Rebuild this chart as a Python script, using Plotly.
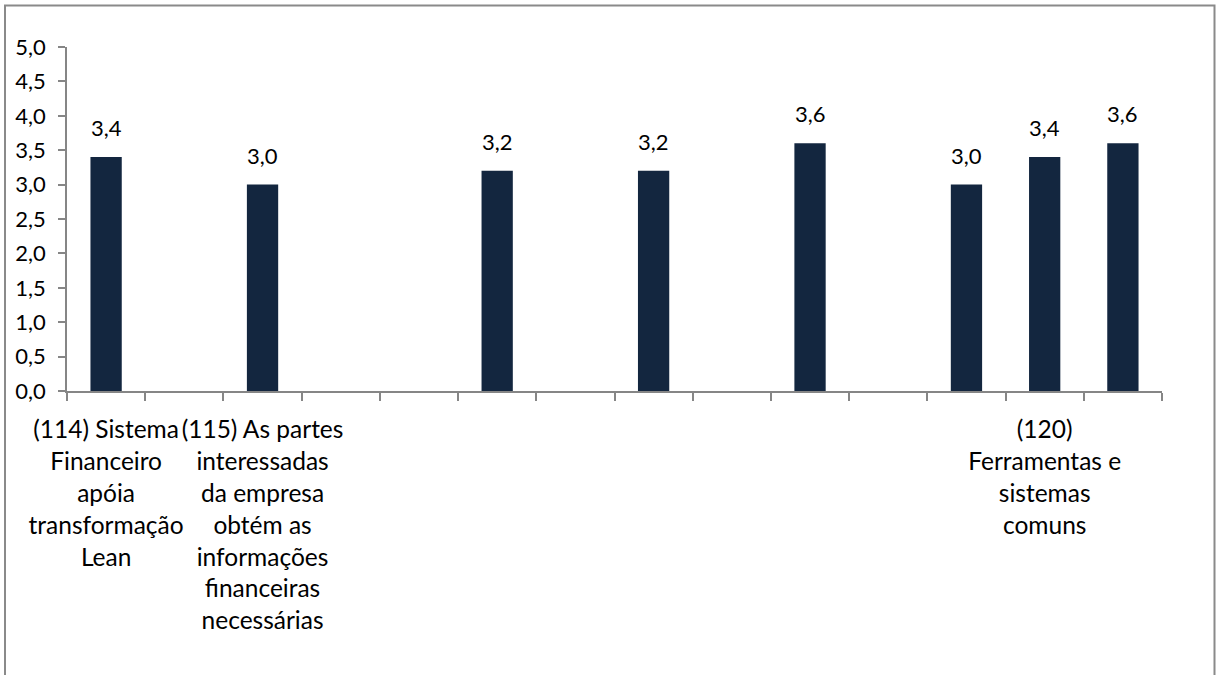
import plotly.graph_objects as go

# ---- data ----
categories = [
    "(114) Sistema<br>Financeiro<br>apóia<br>transformação<br>Lean",
    "",
    "(115) As partes<br>interessadas<br>da empresa<br>obtém as<br>informações<br>financeiras<br>necessárias",
    "", "", "", "", "", "", "", "", "",
    "(120)<br>Ferramentas e<br>sistemas<br>comuns",
    "",
]
values = [3.4, None, 3.0, None, None, 3.2, None, 3.2, None, 3.6, None, 3.0, 3.4, 3.6]
y_ticks = [0, 0.5, 1, 1.5, 2, 2.5, 3, 3.5, 4, 4.5, 5]

# ---- layout constants ----
W, H = 1216, 675
L, R, T, B = 67, 1162, 47, 391
FONT = "Lato, Calibri, sans-serif"
BAR = "#13263f"
AXIS = "#868686"

xpos = list(range(len(categories)))

fig = go.Figure()
fig.add_trace(go.Bar(
    x=xpos, y=values, marker=dict(color=BAR, line=dict(width=0)),
    width=0.4, showlegend=False, hoverinfo="skip",
))

for x, v in zip(xpos, values):
    if v is None:
        continue
    fig.add_annotation(
        x=x, y=v, text=f"{v:.1f}".replace(".", ","), showarrow=False,
        yanchor="bottom", yshift=14, font=dict(family=FONT, size=22, color="#000"),
    )

# outer chart border
px = lambda p: (p - L) / (R - L)
py = lambda p: (B - p) / (B - T)
fig.add_shape(type="rect", xref="paper", yref="paper",
              x0=px(5), x1=px(1214.5), y0=py(700), y1=py(5.5),
              line=dict(color="#8a8a8a", width=2), fillcolor="rgba(0,0,0,0)", layer="below")

fig.update_layout(
    width=W, height=H,
    margin=dict(l=L, r=W - R, t=T, b=H - B, pad=0),
    paper_bgcolor="white", plot_bgcolor="white",
    separators=",.",
    font=dict(family=FONT, size=22, color="#000"),
    bargap=0.6,
)
fig.update_xaxes(
    range=[-0.5, len(categories) - 0.5],
    tickmode="array", tickvals=xpos, ticktext=categories,
    ticks="", ticklen=0, tickangle=0,
    showline=True, linecolor=AXIS, linewidth=1.5,
    showgrid=False, zeroline=False,
    ticklabelstandoff=16,
    tickfont=dict(family=FONT, size=24.5, color="#000"),
    minor=dict(tickmode="array", tickvals=[i - 0.5 for i in range(len(categories) + 1)],
               ticks="outside", ticklen=8, tickcolor=AXIS, tickwidth=1.5, showgrid=False),
)
fig.update_yaxes(
    range=[0, 5], tickmode="array", tickvals=y_ticks, tickformat=".1f",
    ticks="outside", ticklen=7, tickcolor=AXIS, tickwidth=1.5,
    showline=True, linecolor=AXIS, linewidth=1.5,
    showgrid=False, zeroline=False,
    ticklabelstandoff=8,
    tickfont=dict(family=FONT, size=22, color="#000"),
)

fig.write_html("out.html")
